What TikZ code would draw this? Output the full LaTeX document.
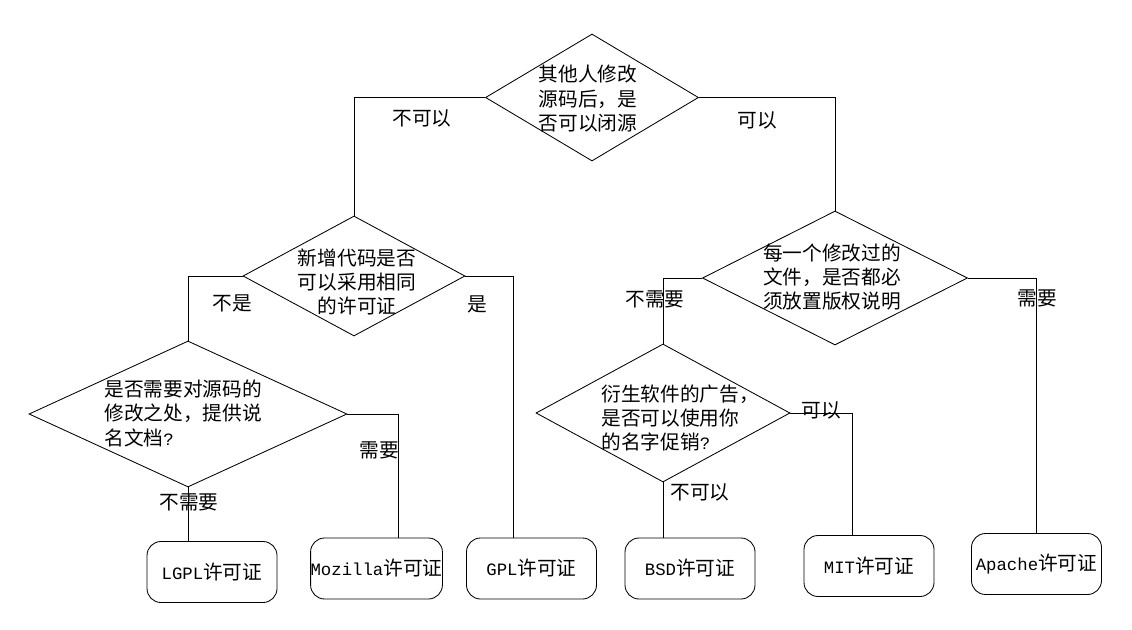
\documentclass[tikz,border=0pt]{standalone}
\usepackage{fontspec}
\newfontfamily\cjk{Noto Sans CJK SC}
\newfontfamily\lat{Liberation Mono}[Scale=0.88]
\usetikzlibrary{shapes.geometric}
\def\pxu{0.025cm} % 1 pixel of the sketch
\begin{document}
\begin{tikzpicture}[x=0.025cm,y=-0.025cm,line width=0.6pt,
  every node/.style={font=\fontsize{14}{17.4}\selectfont\cjk,inner sep=0pt},
  ask/.style 2 args={diamond,draw,minimum width=#1*\pxu,minimum height=#2*\pxu},
  qtext/.style={align=center},
  lic/.style={draw,rounded corners=0.35cm,minimum width=130*\pxu,minimum height=61*\pxu}]
\useasboundingbox (0,0) rectangle (1132,630);
% questions
\node[ask={213}{127}] (q1) at (592,97.5) {};
\node[ask={222}{120}] (q2) at (354,276) {};
\node[ask={265}{134}] (q3) at (835,278) {};
\node[ask={318}{146}] (q4) at (188,414) {};
\node[ask={254}{138}] (q5) at (663,413) {};
\node[qtext] (t1) at (588,99) {其他人修改\\源码后，是\\否可以闭源};
\node[qtext] (t2) at (357,282) {新增代码是否\\可以采用相同\\的许可证};
\node[qtext] (t3) at (832,277) {每一个修改过的\\文件，是否都必\\须放置版权说明};
\node[anchor=west,align=left] (t4) at (104,413) {是否需要对源码的\\修改之处，提供说\\名文档{\lat ?}};
\node[anchor=west,align=left] (t5) at (601,418) {衍生软件的广告，\\是否可以使用你\\的名字促销{\lat ?}};
% licences
\node[lic] (lgpl) at (212,572) {{\lat LGPL}许可证};
\node[lic] (moz) at (376.5,568.5) {{\lat Mozilla}许可证};
\node[lic] (gpl) at (531.5,568.5) {{\lat GPL}许可证};
\node[lic] (bsd) at (690,568.5) {{\lat BSD}许可证};
\node[lic] (mit) at (869,566) {{\lat MIT}许可证};
\node[lic] (apache) at (1036.5,564) {{\lat Apache}许可证};
% connectors
\draw (q1.west) -| (q2.north);
\draw (q1.east) -| (q3.north);
\draw (q2.west) -| (q4.north);
\draw (q2.east) -| ([xshift=-18.5*\pxu]gpl.north);
\draw (q4.east) -| ([xshift=21.5*\pxu]moz.north);
\draw (q4.south) -- (q4.south |- lgpl.north);
\draw (q3.west) -| (q5.north);
\draw (q3.east) -| (apache.north);
\draw (q5.east) -| ([xshift=-17*\pxu]mit.north);
\draw (q5.south) -- (q5.south |- bsd.north);
% answers
\node (a1) at (422,118) {不可以};
\node (a2) at (757,120) {可以};
\node (a3) at (232,303) {不是};
\node (a4) at (477,304) {是};
\node (a5) at (655,299) {不需要};
\node (a6) at (1037.5,298) {需要};
\node (a7) at (379,450) {需要};
\node (a8) at (189,502) {不需要};
\node (a9) at (821,410) {可以};
\node (a10) at (700,492) {不可以};
\end{tikzpicture}
\end{document}
